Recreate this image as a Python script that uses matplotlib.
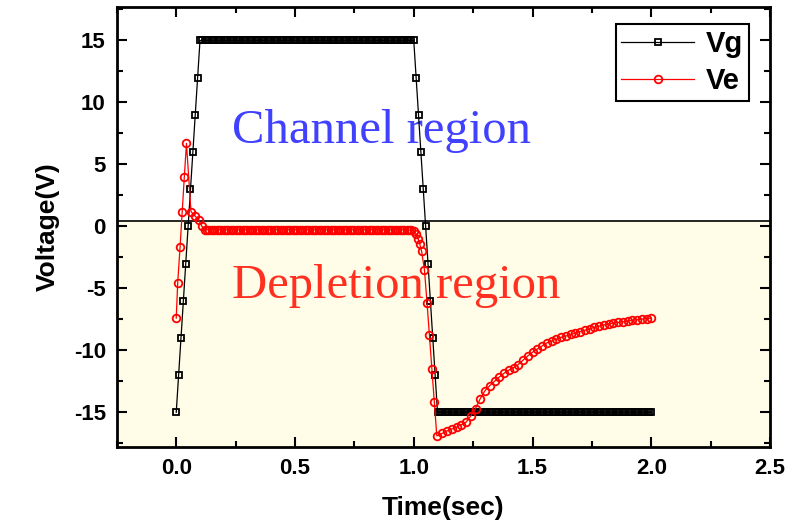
import matplotlib.pyplot as plt
from matplotlib.ticker import MultipleLocator

# gate voltage Vg (square pulse -15 V -> +15 V -> -15 V)
vg_time = [
    0.00,
    0.01, 0.02, 0.03, 0.04, 0.05, 0.06, 0.07, 0.08, 0.09, 0.10,
    0.11, 0.12, 0.13, 0.14, 0.15, 0.16, 0.17, 0.18, 0.19, 0.20,
    0.21, 0.22, 0.23, 0.24, 0.25, 0.26, 0.27, 0.28, 0.29, 0.30,
    0.31, 0.32, 0.33, 0.34, 0.35, 0.36, 0.37, 0.38, 0.39, 0.40,
    0.41, 0.42, 0.43, 0.44, 0.45, 0.46, 0.47, 0.48, 0.49, 0.50,
    0.51, 0.52, 0.53, 0.54, 0.55, 0.56, 0.57, 0.58, 0.59, 0.60,
    0.61, 0.62, 0.63, 0.64, 0.65, 0.66, 0.67, 0.68, 0.69, 0.70,
    0.71, 0.72, 0.73, 0.74, 0.75, 0.76, 0.77, 0.78, 0.79, 0.80,
    0.81, 0.82, 0.83, 0.84, 0.85, 0.86, 0.87, 0.88, 0.89, 0.90,
    0.91, 0.92, 0.93, 0.94, 0.95, 0.96, 0.97, 0.98, 0.99, 1.00,
    1.01, 1.02, 1.03, 1.04, 1.05, 1.06, 1.07, 1.08, 1.09, 1.10,
    1.11, 1.12, 1.13, 1.14, 1.15, 1.16, 1.17, 1.18, 1.19, 1.20,
    1.21, 1.22, 1.23, 1.24, 1.25, 1.26, 1.27, 1.28, 1.29, 1.30,
    1.31, 1.32, 1.33, 1.34, 1.35, 1.36, 1.37, 1.38, 1.39, 1.40,
    1.41, 1.42, 1.43, 1.44, 1.45, 1.46, 1.47, 1.48, 1.49, 1.50,
    1.51, 1.52, 1.53, 1.54, 1.55, 1.56, 1.57, 1.58, 1.59, 1.60,
    1.61, 1.62, 1.63, 1.64, 1.65, 1.66, 1.67, 1.68, 1.69, 1.70,
    1.71, 1.72, 1.73, 1.74, 1.75, 1.76, 1.77, 1.78, 1.79, 1.80,
    1.81, 1.82, 1.83, 1.84, 1.85, 1.86, 1.87, 1.88, 1.89, 1.90,
    1.91, 1.92, 1.93, 1.94, 1.95, 1.96, 1.97, 1.98, 1.99, 2.00,
]
vg_volt = [
    -15,
    -12, -9, -6, -3, 0, 3, 6, 9, 12, 15,
    15, 15, 15, 15, 15, 15, 15, 15, 15, 15,
    15, 15, 15, 15, 15, 15, 15, 15, 15, 15,
    15, 15, 15, 15, 15, 15, 15, 15, 15, 15,
    15, 15, 15, 15, 15, 15, 15, 15, 15, 15,
    15, 15, 15, 15, 15, 15, 15, 15, 15, 15,
    15, 15, 15, 15, 15, 15, 15, 15, 15, 15,
    15, 15, 15, 15, 15, 15, 15, 15, 15, 15,
    15, 15, 15, 15, 15, 15, 15, 15, 15, 15,
    15, 15, 15, 15, 15, 15, 15, 15, 15, 15,
    12, 9, 6, 3, 0, -3, -6, -9, -12, -15,
    -15, -15, -15, -15, -15, -15, -15, -15, -15, -15,
    -15, -15, -15, -15, -15, -15, -15, -15, -15, -15,
    -15, -15, -15, -15, -15, -15, -15, -15, -15, -15,
    -15, -15, -15, -15, -15, -15, -15, -15, -15, -15,
    -15, -15, -15, -15, -15, -15, -15, -15, -15, -15,
    -15, -15, -15, -15, -15, -15, -15, -15, -15, -15,
    -15, -15, -15, -15, -15, -15, -15, -15, -15, -15,
    -15, -15, -15, -15, -15, -15, -15, -15, -15, -15,
    -15, -15, -15, -15, -15, -15, -15, -15, -15, -15,
]

# measured voltage Ve
ve_time = [
    0.000, 0.006, 0.016, 0.025, 0.034, 0.043, 0.062, 0.078, 0.094, 0.108,
    0.12, 0.13, 0.14, 0.15, 0.16, 0.17, 0.18, 0.19,
    0.20, 0.21, 0.22, 0.23, 0.24, 0.25, 0.26, 0.27, 0.28, 0.29,
    0.30, 0.31, 0.32, 0.33, 0.34, 0.35, 0.36, 0.37, 0.38, 0.39,
    0.40, 0.41, 0.42, 0.43, 0.44, 0.45, 0.46, 0.47, 0.48, 0.49,
    0.50, 0.51, 0.52, 0.53, 0.54, 0.55, 0.56, 0.57, 0.58, 0.59,
    0.60, 0.61, 0.62, 0.63, 0.64, 0.65, 0.66, 0.67, 0.68, 0.69,
    0.70, 0.71, 0.72, 0.73, 0.74, 0.75, 0.76, 0.77, 0.78, 0.79,
    0.80, 0.81, 0.82, 0.83, 0.84, 0.85, 0.86, 0.87, 0.88, 0.89,
    0.90, 0.91, 0.92, 0.93, 0.94, 0.95, 0.96, 0.97, 0.98, 0.99,
    1.000, 1.010, 1.018, 1.025, 1.033, 1.045, 1.056, 1.066, 1.076, 1.087, 1.097,
    1.12, 1.14, 1.16, 1.18, 1.20, 1.22, 1.24, 1.26, 1.28, 1.30,
    1.32, 1.34, 1.36, 1.38, 1.40, 1.42, 1.44, 1.46, 1.48, 1.50,
    1.52, 1.54, 1.56, 1.58, 1.60, 1.62, 1.64, 1.66, 1.68, 1.70,
    1.72, 1.74, 1.76, 1.78, 1.80, 1.82, 1.84, 1.86, 1.88, 1.90,
    1.92, 1.94, 1.96, 1.98, 2.00,
]
ve_volt = [
    -7.4, -4.6, -1.7, 1.2, 4.0, 6.7, 1.2, 0.86, 0.54, 0.0,
    -0.27, -0.27, -0.27, -0.27, -0.27, -0.27, -0.27, -0.27,
    -0.27, -0.27, -0.27, -0.27, -0.27, -0.27, -0.27, -0.27, -0.27, -0.27,
    -0.27, -0.27, -0.27, -0.27, -0.27, -0.27, -0.27, -0.27, -0.27, -0.27,
    -0.27, -0.27, -0.27, -0.27, -0.27, -0.27, -0.27, -0.27, -0.27, -0.27,
    -0.27, -0.27, -0.27, -0.27, -0.27, -0.27, -0.27, -0.27, -0.27, -0.27,
    -0.27, -0.27, -0.27, -0.27, -0.27, -0.27, -0.27, -0.27, -0.27, -0.27,
    -0.27, -0.27, -0.27, -0.27, -0.27, -0.27, -0.27, -0.27, -0.27, -0.27,
    -0.27, -0.27, -0.27, -0.27, -0.27, -0.27, -0.27, -0.27, -0.27, -0.27,
    -0.27, -0.27, -0.27, -0.27, -0.27, -0.27, -0.27, -0.28, -0.29, -0.31,
    -0.35, -0.6, -1.0, -1.4, -2.0, -3.5, -6.2, -8.8, -11.5, -14.2, -16.9,
    -16.7, -16.5, -16.35, -16.2, -16.0, -15.8, -15.3, -14.7, -13.9, -13.25,
    -12.85, -12.5, -12.15, -11.85, -11.6, -11.4, -11.15, -10.8, -10.45, -10.15,
    -9.9, -9.65, -9.4, -9.25, -9.1, -8.95, -8.85, -8.72, -8.6, -8.5,
    -8.38, -8.27, -8.15, -8.05, -7.96, -7.88, -7.8, -7.75, -7.7, -7.64,
    -7.58, -7.53, -7.48, -7.44, -7.4,
]

boundary = 0.45  # channel / depletion border

plt.rcParams["axes.unicode_minus"] = False
plt.rcParams["font.family"] = "Liberation Sans"

fig = plt.figure(figsize=(7.95, 5.3), dpi=100)
ax = fig.add_axes([0.147, 0.1566, 0.8216, 0.8302])

ax.axhspan(-20, boundary, color="#FFFDE8", zorder=0)
ax.axhline(boundary, color="black", lw=1.2, zorder=1)

ax.plot(vg_time, vg_volt, color="black", lw=0.9, marker="s", ms=5, mfc="none",
        mec="black", mew=1.3, label="Vg", zorder=3)
ax.plot(ve_time, ve_volt, color="red", lw=0.9, marker="o", ms=5.5, mfc="none",
        mec="red", mew=1.3, label="Ve", zorder=4)

ax.text(0.235, 6.7, "Channel region", family="Liberation Serif", fontsize=35,
        color="#4040FF", va="baseline", ha="left", zorder=2)
ax.text(0.235, -5.75, "Depletion region", family="Liberation Serif", fontsize=35,
        color="#FF3020", va="baseline", ha="left", zorder=2)

ax.set_xlim(-0.25, 2.5)
ax.set_ylim(-17.8, 17.7)
ax.set_xticks([0.0, 0.5, 1.0, 1.5, 2.0, 2.5])
ax.set_yticks([-15, -10, -5, 0, 5, 10, 15])
ax.xaxis.set_minor_locator(MultipleLocator(0.25))
ax.yaxis.set_minor_locator(MultipleLocator(2.5))
ax.tick_params(which="both", direction="in", top=True, right=True, width=1.5)
ax.tick_params(which="major", length=7, labelsize=16, pad=8)
ax.tick_params(which="minor", length=4)
for lab in ax.get_xticklabels() + ax.get_yticklabels():
    lab.set_fontweight("bold")
for sp in ax.spines.values():
    sp.set_linewidth(2)

ax.set_xlabel("Time(sec)", fontsize=19, fontweight="bold", labelpad=12)
ax.set_ylabel("Voltage(V)", fontsize=19, fontweight="bold", labelpad=10)

leg = ax.legend(loc="upper right", bbox_to_anchor=(0.968, 0.961), borderaxespad=0,
                prop={"weight": "bold", "size": 21}, handlelength=2.5,
                handletextpad=0.4, borderpad=0.2, labelspacing=0.3,
                fancybox=False, framealpha=1, edgecolor="black")
leg.get_frame().set_linewidth(1.5)

fig.savefig("out.png", dpi=100)
